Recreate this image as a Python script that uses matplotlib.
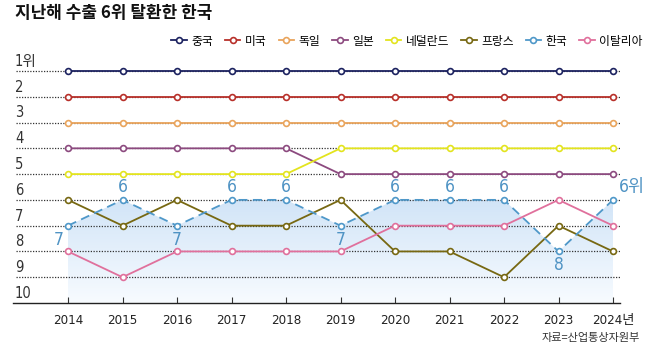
import matplotlib
matplotlib.use("Agg")
import matplotlib.pyplot as plt
import numpy as np
from matplotlib.lines import Line2D
from matplotlib.font_manager import fontManager

# look for a condensed / narrow face for the numbers
narrow_name, narrow_stretch = None, 'normal'
for f in fontManager.ttflist:
    if f.weight in (400, 'normal', 'regular') and f.style == 'normal':
        if 'Narrow' in f.name or 'Condensed' in f.name:
            narrow_name, narrow_stretch = f.name, f.stretch
            break
        if f.stretch in ('condensed', 'semi-condensed'):
            narrow_name, narrow_stretch = f.name, f.stretch
            break
NARROW = [narrow_name, 'Noto Sans CJK KR'] if narrow_name else ['Noto Sans CJK KR']
CJK = ['Noto Sans CJK KR', 'DejaVu Sans']
plt.rcParams['font.family'] = CJK
NKW = dict(family=NARROW, stretch=narrow_stretch)

years = list(range(2014, 2025))
year_labels = [str(y) for y in years[:-1]] + ['2024년']
rank_labels = ['1위', '2', '3', '4', '5', '6', '7', '8', '9', '10']

countries = ['중국', '미국', '독일', '일본', '네덜란드', '프랑스', '한국', '이탈리아']
china = [1] * 11
usa = [2] * 11
germany = [3] * 11
japan = [4, 4, 4, 4, 4, 5, 5, 5, 5, 5, 5]
netherlands = [5, 5, 5, 5, 5, 4, 4, 4, 4, 4, 4]
france = [6, 7, 6, 7, 7, 6, 8, 8, 9, 7, 8]
korea = [7, 6, 7, 6, 6, 7, 6, 6, 6, 8, 6]
italy = [8, 9, 8, 8, 8, 8, 7, 7, 7, 6, 7]
korea_label_pos = ['below-left', 'above', 'below', 'above', 'above', 'below',
                   'above', 'above', 'above', 'below', 'above-right']

series = [china, usa, germany, japan, netherlands, france, korea, italy]
colors = ['#1c2260', '#b8302a', '#e9a45c', '#8c4a7f', '#e3e41e', '#776812', '#4f98c9', '#e0709c']
KOREA_TXT = '#4f93c4'

W, H = 658, 364
fig = plt.figure(figsize=(W / 100, H / 100), dpi=100)
ax = fig.add_axes([13 / W, 1 - 303 / H, (620 - 13) / W, (303 - 60) / H])
XL = (2014 - 55 / 54.5, 2024 + 7 / 54.5)
YL = (10, 1 - 11 / 25.8)
for s in ['top', 'right', 'left']:
    ax.spines[s].set_visible(False)
ax.spines['bottom'].set_color('#222222')
ax.spines['bottom'].set_linewidth(1.0)
ax.set_yticks([])
ax.set_xticks(years)
ax.set_xticklabels(year_labels, fontsize=9.5, color='#222222', **NKW)
ax.tick_params(axis='x', direction='in', length=4, width=0.8, color='#333333', pad=8)

for r in range(1, 10):
    ax.plot([2014 - 52 / 54.5, XL[1]], [r, r], ls=(0, (1, 1.2)), color='#333333', lw=0.9, zorder=1)
for i, lab in enumerate(rank_labels):
    r = i + 1
    ax.text(2014 - 53 / 54.5, r - 0.08, lab, fontsize=10.5, color='#333333',
            ha='left', va='bottom', zorder=2, **NKW)

grad = np.linspace(0, 1, 256).reshape(-1, 1)
c_top = np.array([0.82, 0.895, 0.97])
c_bot = np.array([0.97, 0.985, 1.0])
img = c_top[None, None, :] * (1 - grad[:, :, None]) + c_bot[None, None, :] * grad[:, :, None]
im = ax.imshow(img, extent=[2014, 2024, 10, 6], aspect='auto', zorder=0.5, interpolation='bilinear')
poly = ax.fill_between(years, korea, 10, color='none', lw=0)
im.set_clip_path(poly.get_paths()[0], transform=ax.transData)
ax.set_xlim(*XL)
ax.set_ylim(*YL)

for name, vals, c in zip(countries, series, colors):
    ls = (0, (5, 3)) if name == '한국' else '-'
    ax.plot(years, vals, color=c, lw=1.3, ls=ls, marker='o', markersize=4.2,
            markerfacecolor='white', markeredgecolor=c, markeredgewidth=1.2, zorder=3)

for x, v, pos in zip(years, korea, korea_label_pos):
    txt = str(v)
    if pos == 'above':
        off, ha = (0, 9), 'center'
    elif pos == 'below':
        off, ha = (0, -10), 'center'
    elif pos == 'below-left':
        off, ha = (-7, -10), 'center'
    else:
        off, ha = (4, 9), 'left'
        txt = f'{v}위'
    ax.annotate(txt, (x, v), xytext=off, textcoords='offset points', ha=ha, va='center',
                fontsize=12.5, color=KOREA_TXT, zorder=4, **NKW)

fig.text(15 / W, 1 - 13 / H, '지난해 수출 6위 탈환한 한국', fontsize=12.2, fontweight='bold',
         color='#111111', ha='left', va='center')

handles = [Line2D([0], [0], color=c, lw=1.3, marker='o', markersize=4.2,
                  markerfacecolor='white', markeredgecolor=c, markeredgewidth=1.2)
           for c in colors]
fig.legend(handles, countries, loc='center right', bbox_to_anchor=(643 / W, 1 - 41 / H),
           ncol=8, frameon=False, fontsize=8.5, handlelength=1.3, handletextpad=0.4,
           columnspacing=1.0, borderaxespad=0, borderpad=0)

fig.text(640 / W, 1 - 338 / H, '자료=산업통상자원부', fontsize=8, color='#333333',
         ha='right', va='center')

fig.savefig('out.png', dpi=100)
